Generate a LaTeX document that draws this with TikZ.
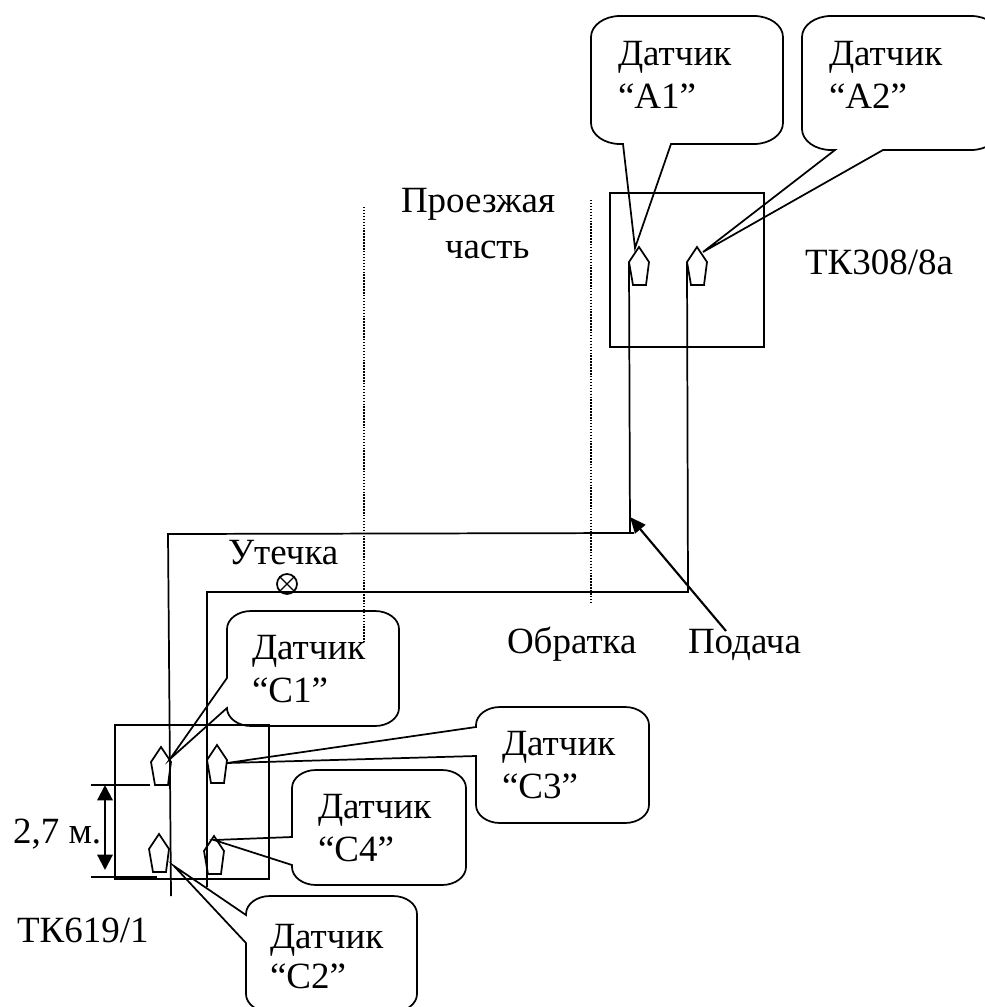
\documentclass[tikz,border=0pt]{standalone}
\usepackage{fontspec}
\setmainfont{Liberation Serif}
\usetikzlibrary{arrows.meta}
\tikzset{
  x=0.75pt, y=-0.75pt,
  line/.style={draw=black, line width=1.3pt, line join=miter},
  thin line/.style={draw=black, line width=1pt},
  dots/.style={draw=black, line width=0.9pt, dash pattern=on 1.1pt off 1.1pt},
  lab/.style={anchor=base west, inner sep=0pt, outer sep=0pt, align=left,
     font=\fontsize{27.75}{32.25}\selectfont},
  dimarrow/.style={draw=black, line width=1.6pt, {Triangle[length=11.5pt,width=11.5pt]}-{Triangle[length=11.5pt,width=11.5pt]}},
  feedarrow/.style={draw=black, line width=1.6pt, -{Triangle[length=12pt,width=10pt]}},
  sensor/.pic={
    \path[line] (0,0) -- (10,15) -- (7,38) -- (-6,38) -- (-10,15) -- cycle;
    \coordinate (-tip) at (0,0);
    \coordinate (-left) at (-10,15);
    \coordinate (-right) at (10,15);
  }
}
% counter-clockwise rounded corners
\newcommand{\rBR}{.. controls +({.55*\rx},0) and +(0,{.55*\ry}) .. ++(\rx,-\ry)}
\newcommand{\rTR}{.. controls +(0,{-.55*\ry}) and +({.55*\rx},0) .. ++(-\rx,-\ry)}
\newcommand{\rTL}{.. controls +({-.55*\rx},0) and +(0,{-.55*\ry}) .. ++(-\rx,\ry)}
\newcommand{\rBL}{.. controls +(0,{.55*\ry}) and +({-.55*\rx},0) .. ++(\rx,\ry)}
% x1 y1 x2 y2 a tip b : tail on the bottom edge
\newcommand{\calloutbottom}[7]{%
  \draw[line] (#5,#4) -- (#6) -- (#7,#4) -- ({#3-\rx},#4) \rBR -- (#3,{#2+\ry}) \rTR
     -- ({#1+\rx},#2) \rTL -- (#1,{#4-\ry}) \rBL -- cycle;}
% x1 y1 x2 y2 a tip b : tail on the left edge
\newcommand{\calloutleft}[7]{%
  \draw[line] (#1,#5) -- (#6) -- (#1,#7) -- (#1,{#4-\ry}) \rBL -- ({#3-\rx},#4) \rBR
     -- (#3,{#2+\ry}) \rTR -- ({#1+\rx},#2) \rTL -- cycle;}
\begin{document}
\begin{tikzpicture}
\clip (0,0) rectangle (985,1007);
\path[fill=white] (0,0) rectangle (985,1007);

% chambers
\draw[line] (610,193) rectangle (764,347);
\draw[line] (115,725) rectangle (269,879);

% sensors
\pic (A1) at (639,247) {sensor};
\pic (A2) at (697,247) {sensor};
\pic (C1) at (161,747) {sensor};
\pic (C3) at (217,745) {sensor};
\pic (C2) at (159,834) {sensor};
\pic (C4) at (214,836) {sensor};

% road edges
\coordinate (d1a) at (364,207);
\coordinate (d1b) at (364,642);
\coordinate (d2a) at (591,200);
\coordinate (d2b) at (591,604);
\draw[dots] (d1a) -- (d1b);
\draw[dots] (d2a) -- (d2b);

% pipes
\coordinate (p1) at (630,533);
\coordinate (p1s) at (634,533);
\coordinate (p2) at (168,534);
\coordinate (p3) at (171,896);
\coordinate (q1) at (688,592);
\coordinate (q2) at (207,592);
\coordinate (q3) at (207,887);
\draw[line] (A1-left) -- (p1);
\draw[line] (p1s) -- (p2) -- (p3);
\draw[line] (A2-left) -- (q1) -- (q2) -- (q3);

% callouts
\coordinate (tA1) at (635,248);
\coordinate (tA2) at (703,252);
\coordinate (tC1) at (170,759);
\coordinate (tC2) at (174,866);
\coordinate (tC3) at (227,763);
\coordinate (tC4) at (214,840);

\def\rx{29}\def\ry{21}
\calloutbottom{591}{16}{783}{144}{623}{tA1}{671}
\calloutbottom{802}{16}{1000}{150}{835}{tA2}{883}
\def\rx{24}\def\ry{18}
\calloutleft{227}{611}{399}{726}{678}{tC1}{708}
\calloutleft{476}{707}{649}{823}{727}{tC3}{756}
\calloutleft{292}{770}{466}{885}{837}{tC4}{865}
\calloutleft{246}{896}{417}{1012}{915}{tC2}{943}

% dimension
\coordinate (dimT) at (91,785);
\coordinate (dimTe) at (150,785);
\coordinate (dimB) at (91,877);
\coordinate (dimBe) at (157,877);
\coordinate (arrT) at (105,785);
\coordinate (arrB) at (105,870);
\draw[thin line] (dimT) -- (dimTe);
\draw[thin line] (dimB) -- (dimBe);
\draw[dimarrow] (arrT) -- (arrB);

% feed arrow
\coordinate (fa) at (726,631);
\coordinate (fb) at (630,517);
\draw[feedarrow] (fa) -- (fb);

% leak mark
\node[circle, line, minimum size=15pt, inner sep=0pt] (leak) at (287,584) {};
\draw[thin line] (leak.north east) -- (leak.south west);
\draw[thin line] (leak.north west) -- (leak.south east);

% labels
\node[lab] (lA1) at (618,108) {Датчик\\“A1”};
\node[lab] (lA2) at (829,108) {Датчик\\“A2”};
\node[lab] (lC1) at (252,702) {Датчик\\“C1”};
\node[lab] (lC3) at (502,798) {Датчик\\“C3”};
\node[lab] (lC4) at (318,861) {Датчик\\“C4”};
\node[lab] (lC2) at (270,988) {Датчик\\[-2.25pt]“C2”};
\node[lab] (road1) at (401,212) {Проезжая};
\node[lab] (road2) at (445,258) {часть};
\node[lab] (tk1) at (805,274) {ТК308/8а};
\node[lab] (tk2) at (17,942) {ТК619/1};
\node[lab] (leakl) at (228,564) {Утечка};
\node[lab] (ret) at (507,653) {Обратка};
\node[lab] (feed) at (688,653) {Подача};
\node[lab] (dim) at (13,843) {2,7 м.};
\end{tikzpicture}
\end{document}
